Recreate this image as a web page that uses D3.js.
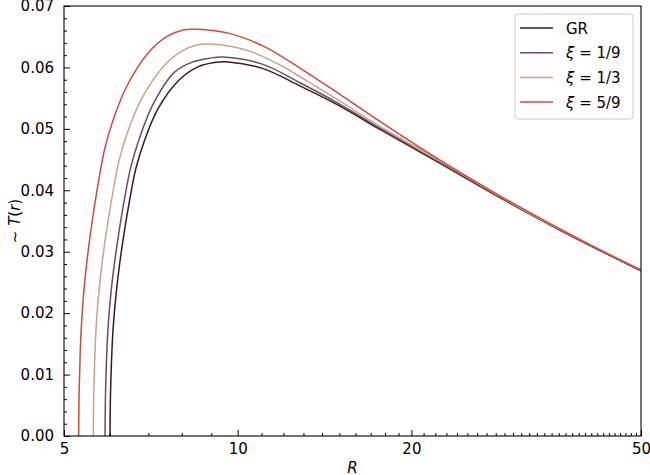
<!DOCTYPE html>
<html>
<head>
<meta charset="utf-8">
<script src="https://cdn.jsdelivr.net/npm/d3@7"></script>
<style>
  html, body { margin: 0; padding: 0; background: #fff; }
  svg { display: block; font-family: "DejaVu Sans", sans-serif; }
</style>
</head>
<body>
<svg id="chart" width="650" height="475"></svg>
<script>
// ---------------- data ----------------
const seriesNames = ["GR", "ξ = 1/9", "ξ = 1/3", "ξ = 5/9"];
const seriesColors = ["#3a1a1e", "#6d4d59", "#c9a48c", "#d24a3b"];

const rGR = [6.008, 6.015, 6.028, 6.052, 6.086, 6.152, 6.243, 6.359, 6.497, 6.659, 6.888, 7.277, 7.922, 8.533, 9.113, 9.630, 11.06, 12.82, 15.04, 17.64, 22.42, 28.48, 36.19, 42.46, 50];
const tGR = [0, 0.0054, 0.0089, 0.0136, 0.0178, 0.0229, 0.0280, 0.0332, 0.0384, 0.0435, 0.0480, 0.0533, 0.0580, 0.0601, 0.0608, 0.0609, 0.0598, 0.0570, 0.0537, 0.0499, 0.0444, 0.0388, 0.0335, 0.0302, 0.0269];

const rXi19 = [5.889, 5.897, 5.909, 5.932, 5.966, 6.029, 6.119, 6.233, 6.368, 6.528, 6.752, 7.132, 7.765, 8.365, 8.933, 9.440, 11.06, 12.82, 15.04, 17.64, 22.42, 28.48, 36.19, 42.46, 50];
const tXi19 = [0, 0.0055, 0.0090, 0.0138, 0.0181, 0.0232, 0.0283, 0.0335, 0.0387, 0.0438, 0.0484, 0.0540, 0.0592, 0.0609, 0.0615, 0.0617, 0.0605, 0.0575, 0.0540, 0.0501, 0.0445, 0.0389, 0.0336, 0.0302, 0.0269];

const rXi13 = [5.620, 5.627, 5.639, 5.661, 5.692, 5.754, 5.840, 5.947, 6.078, 6.230, 6.445, 6.806, 7.411, 7.985, 8.520, 9.015, 10.37, 11.84, 12.82, 15.04, 17.64, 22.42, 28.48, 36.19, 42.46, 50];
const tXi13 = [0, 0.0057, 0.0093, 0.0143, 0.0187, 0.0240, 0.0292, 0.0344, 0.0397, 0.0449, 0.0495, 0.0548, 0.0600, 0.0626, 0.0637, 0.0638, 0.0628, 0.0604, 0.0585, 0.0545, 0.0504, 0.0448, 0.0390, 0.0336, 0.0303, 0.0270];

const rXi59 = [5.302, 5.308, 5.320, 5.340, 5.371, 5.428, 5.509, 5.611, 5.733, 5.877, 6.080, 6.420, 6.990, 7.530, 8.040, 8.500, 9.700, 11.06, 12.82, 15.04, 17.64, 22.42, 28.48, 36.19, 42.46, 50];
const tXi59 = [0, 0.0059, 0.0097, 0.0148, 0.0194, 0.0249, 0.0303, 0.0357, 0.0412, 0.0466, 0.0514, 0.0569, 0.0623, 0.0650, 0.0661, 0.0662, 0.0655, 0.0635, 0.0599, 0.0556, 0.0512, 0.0449, 0.0391, 0.0337, 0.0303, 0.0270];

const xMajorTicks = [5, 10, 20, 50];
const xMinorTicks = [6, 7, 8, 9, 11, 12, 13, 14, 15, 16, 17, 18, 19,
  21, 22, 23, 24, 25, 26, 27, 28, 29, 30, 31, 32, 33, 34, 35, 36, 37, 38, 39,
  40, 41, 42, 43, 44, 45, 46, 47, 48, 49];
const yMajorTicks = [0, 0.01, 0.02, 0.03, 0.04, 0.05, 0.06, 0.07];
const yMinorTicks = [0.002, 0.004, 0.006, 0.008, 0.012, 0.014, 0.016, 0.018,
  0.022, 0.024, 0.026, 0.028, 0.032, 0.034, 0.036, 0.038, 0.042, 0.044, 0.046, 0.048,
  0.052, 0.054, 0.056, 0.058, 0.062, 0.064, 0.066, 0.068];

// ---------------- layout ----------------
const svg = d3.select("#chart");
const L = 64, R = 641, T = 6, B = 436;

const x = d3.scaleLog().domain([5, 50]).range([L, R]);
const y = d3.scaleLinear().domain([0, 0.07]).range([B, T]);

const series = [
  { name: seriesNames[0], color: seriesColors[0], r: rGR, t: tGR },
  { name: seriesNames[1], color: seriesColors[1], r: rXi19, t: tXi19 },
  { name: seriesNames[2], color: seriesColors[2], r: rXi13, t: tXi13 },
  { name: seriesNames[3], color: seriesColors[3], r: rXi59, t: tXi59 }
];

svg.append("defs").append("clipPath").attr("id", "clip")
  .append("rect").attr("x", L).attr("y", T).attr("width", R - L).attr("height", B - T);

// lines
const line = d3.line().x(d => x(d[0])).y(d => y(d[1])).curve(d3.curveCatmullRom.alpha(0.5));
const gLines = svg.append("g").attr("clip-path", "url(#clip)");
series.forEach(s => {
  gLines.append("path")
    .datum(s.r.map((r, i) => [r, s.t[i]]))
    .attr("d", line)
    .attr("fill", "none")
    .attr("stroke", s.color)
    .attr("stroke-width", 1.5);
});

// axes
const fontSize = 15;
svg.append("g").attr("transform", `translate(0,${B})`)
  .call(d3.axisBottom(x).tickValues(xMajorTicks).tickFormat(d3.format("d")).tickSize(-6).tickPadding(7));
svg.append("g").attr("transform", `translate(0,${B})`)
  .call(d3.axisBottom(x).tickValues(xMinorTicks).tickFormat("").tickSize(-3));
svg.append("g").attr("transform", `translate(${L},0)`)
  .call(d3.axisLeft(y).tickValues(yMajorTicks).tickFormat(d3.format(".2f")).tickSize(-6).tickPadding(10));
svg.append("g").attr("transform", `translate(${L},0)`)
  .call(d3.axisLeft(y).tickValues(yMinorTicks).tickFormat("").tickSize(-3));

svg.selectAll(".domain").remove();
svg.selectAll(".tick line").attr("stroke", "#000").attr("stroke-width", 1);
svg.selectAll(".tick text").attr("font-size", fontSize).attr("fill", "#000")
  .attr("font-family", "DejaVu Sans, sans-serif");

// frame
svg.append("rect").attr("x", L).attr("y", T).attr("width", R - L).attr("height", B - T)
  .attr("fill", "none").attr("stroke", "#000").attr("stroke-width", 1.1);

// axis labels
svg.append("text").attr("x", (L + R) / 2).attr("y", 472.5)
  .attr("text-anchor", "middle").attr("font-size", fontSize)
  .attr("font-style", "italic").text("R");

const yl = svg.append("text")
  .attr("transform", `translate(20,${(T + B) / 2}) rotate(-90)`)
  .attr("text-anchor", "middle").attr("font-size", fontSize);
yl.append("tspan").text("∼ ");
yl.append("tspan").attr("font-style", "italic").text("T");
yl.append("tspan").text("(");
yl.append("tspan").attr("font-style", "italic").text("r");
yl.append("tspan").text(")");

// legend
const lg = svg.append("g");
lg.append("rect").attr("x", 515).attr("y", 14).attr("width", 118).attr("height", 105)
  .attr("rx", 3).attr("fill", "#fff").attr("fill-opacity", 0.8)
  .attr("stroke", "#cccccc").attr("stroke-width", 1);
series.forEach((s, i) => {
  const yy = 28 + i * 24.7;
  lg.append("line").attr("x1", 520).attr("x2", 553).attr("y1", yy).attr("y2", yy)
    .attr("stroke", s.color).attr("stroke-width", 1.5);
  const t = lg.append("text").attr("x", 566).attr("y", yy + 5.5).attr("font-size", fontSize);
  if (s.name.startsWith("ξ")) {
    t.append("tspan").attr("font-style", "italic").text("ξ");
    t.append("tspan").text(s.name.slice(1));
  } else {
    t.text(s.name);
  }
});
</script>
</body>
</html>
